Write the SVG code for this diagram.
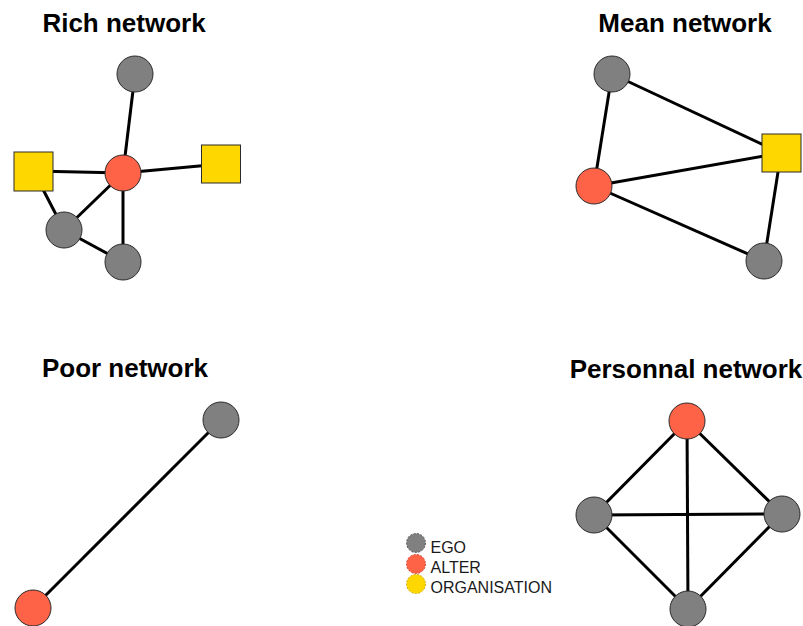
<svg xmlns="http://www.w3.org/2000/svg" width="803" height="626" viewBox="0 0 803 626">
<style>
.title{font-family:"Liberation Sans",Arial,sans-serif;font-weight:bold;font-size:26px;fill:#000;text-anchor:middle}
.leg{font-family:"Liberation Sans",Arial,sans-serif;font-size:16px;fill:#1a1a1a}
.ego{fill:#808080;stroke:#2b2b2b;stroke-width:1}
.alter{fill:#FF6347;stroke:#2b2b2b;stroke-width:1}
.org{fill:#FFD700;stroke:#2b2b2b;stroke-width:1}
.edge{stroke:#000;stroke-width:3;fill:none}
</style>
<rect width="803" height="626" fill="#fff"/>
<g id="titles">
<text class="title" x="124" y="32">Rich network</text>
<text class="title" x="685" y="32">Mean network</text>
<text class="title" x="125" y="377">Poor network</text>
<text class="title" x="686" y="378">Personnal network</text>
</g>
<g id="connectors">
<!-- Rich -->
<line class="edge" x1="135" y1="74" x2="123" y2="173"/>
<line class="edge" x1="33.5" y1="171" x2="123" y2="173"/>
<line class="edge" x1="221" y1="164" x2="123" y2="173"/>
<line class="edge" x1="64" y1="230" x2="123" y2="173"/>
<line class="edge" x1="123" y1="262" x2="123" y2="173"/>
<line class="edge" x1="33.5" y1="171" x2="64" y2="230"/>
<line class="edge" x1="64" y1="230" x2="123" y2="262"/>
<!-- Mean -->
<line class="edge" x1="612" y1="74" x2="781" y2="153"/>
<line class="edge" x1="612" y1="74" x2="594" y2="186"/>
<line class="edge" x1="594" y1="186" x2="781" y2="153"/>
<line class="edge" x1="594" y1="186" x2="764" y2="261"/>
<line class="edge" x1="781" y1="153" x2="764" y2="261"/>
<!-- Poor -->
<line class="edge" x1="221" y1="420" x2="33" y2="608"/>
<!-- Personal -->
<line class="edge" x1="687" y1="421" x2="594" y2="515"/>
<line class="edge" x1="687" y1="421" x2="782" y2="514"/>
<line class="edge" x1="687" y1="421" x2="688" y2="609"/>
<line class="edge" x1="594" y1="515" x2="782" y2="514"/>
<line class="edge" x1="594" y1="515" x2="688" y2="609"/>
<line class="edge" x1="782" y1="514" x2="688" y2="609"/>
</g>
<g id="rich-ego1"><circle class="ego" cx="135" cy="74" r="18"/></g>
<g id="rich-alter"><circle class="alter" cx="123" cy="173" r="18"/></g>
<g id="rich-org1"><rect class="org" x="14" y="152" width="39" height="39"/></g>
<g id="rich-org2"><rect class="org" x="201.5" y="145" width="39" height="38"/></g>
<g id="rich-ego2"><circle class="ego" cx="64" cy="230" r="18"/></g>
<g id="rich-ego3"><circle class="ego" cx="123" cy="262" r="18"/></g>

<g id="mean-ego1"><circle class="ego" cx="612" cy="74" r="18"/></g>
<g id="mean-alter"><circle class="alter" cx="594" cy="186" r="18"/></g>
<g id="mean-org"><rect class="org" x="762" y="134" width="39" height="38"/></g>
<g id="mean-ego2"><circle class="ego" cx="764" cy="261" r="18"/></g>

<g id="poor-ego"><circle class="ego" cx="221" cy="420" r="18"/></g>
<g id="poor-alter"><circle class="alter" cx="33" cy="608" r="18"/></g>

<g id="pers-alter"><circle class="alter" cx="687" cy="421" r="18"/></g>
<g id="pers-ego1"><circle class="ego" cx="594" cy="515" r="18"/></g>
<g id="pers-ego2"><circle class="ego" cx="782" cy="514" r="18"/></g>
<g id="pers-ego3"><circle class="ego" cx="688" cy="609" r="18"/></g>

<g id="legend">
<circle cx="416" cy="543" r="9.5" fill="#808080" stroke="#555" stroke-width="1" stroke-dasharray="2,1.5"/>
<circle cx="416" cy="564" r="9.5" fill="#FF6347" stroke="#d04030" stroke-width="1" stroke-dasharray="2,1.5"/>
<circle cx="416" cy="584" r="9.5" fill="#FFD700" stroke="#c8a800" stroke-width="1" stroke-dasharray="2,1.5"/>
<text class="leg" x="430.5" y="553">EGO</text>
<text class="leg" x="430.5" y="573">ALTER</text>
<text class="leg" x="430.5" y="593">ORGANISATION</text>
</g>
</svg>
